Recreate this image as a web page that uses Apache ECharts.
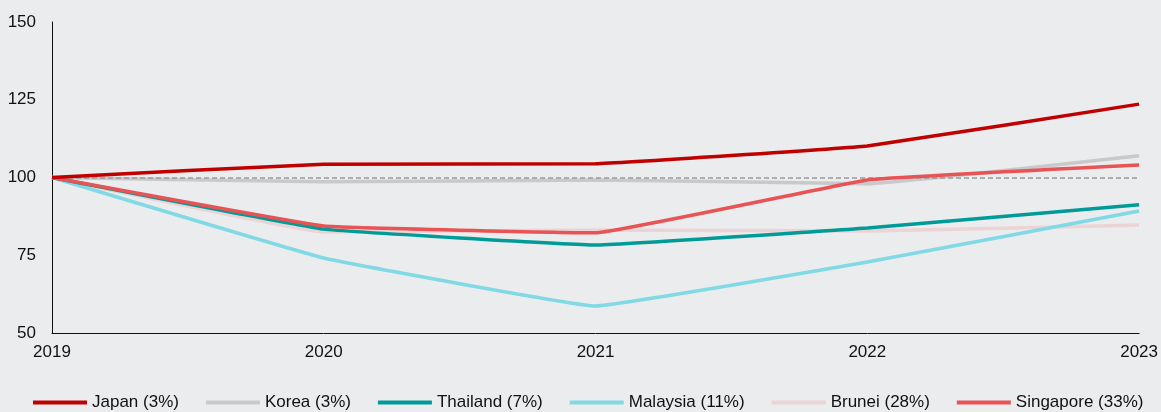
<!DOCTYPE html>
<html>
<head>
<meta charset="utf-8">
<script src="https://cdn.jsdelivr.net/npm/echarts@6/dist/echarts.min.js"></script>
<style>
  html, body { margin: 0; padding: 0; background: #EBECEE; }
  #main { width: 1161px; height: 412px; }
</style>
</head>
<body>
<div id="main"></div>
<script>
// data
const years = ['2019', '2020', '2021', '2022', '2023'];
const yTicks = [50, 75, 100, 125, 150];

const japan     = [100, 104.3, 104.4, 110.1, 123.6];
const korea     = [100, 98.6, 99.2, 98.0, 107.0];
const thailand  = [100, 83.4, 78.3, 83.8, 91.2];
const malaysia  = [100, 74.1, 58.7, 72.8, 89.2];
const brunei    = [100, 82.5, 83.1, 82.8, 84.7];
const singapore = [100, 84.4, 82.2, 99.2, 104.0];

const seriesNames = ['Japan (3%)', 'Korea (3%)', 'Thailand (7%)', 'Malaysia (11%)', 'Brunei (28%)', 'Singapore (33%)'];
const seriesData = [japan, korea, thailand, malaysia, brunei, singapore];
const colors = ['#C00000', '#C9C9CB', '#009B98', '#80D9E4', '#ECD3D5', '#E85355'];
// drawing order: light lines first, strong ones on top
const zOrder = [6, 2, 4, 3, 1, 5];

const chartDom = document.getElementById('main');
const myChart = echarts.init(chartDom);
const font = 'Liberation Sans, Arial, sans-serif';

const series = seriesNames.map((name, i) => ({
  name: name,
  type: 'line',
  data: seriesData[i],
  symbol: 'none',
  smooth: 0.07,
  z: zOrder[i],
  lineStyle: { color: colors[i], width: 3.5 },
  itemStyle: { color: colors[i] }
}));

// dashed reference line at 100
series[1].markLine = {
  silent: true,
  symbol: 'none',
  label: { show: false },
  lineStyle: { color: '#9A9A9A', type: [5, 3], width: 1.5 },
  data: [{ yAxis: 100 }]
};

const option = {
  backgroundColor: '#EBECEE',
  animation: false,
  textStyle: { fontFamily: font },
  grid: { left: 52, right: 21, top: 22, bottom: 79, containLabel: false },
  legend: {
    bottom: 1,
    left: 33,
    padding: 0,
    icon: 'rect',
    itemWidth: 54,
    itemHeight: 4,
    itemGap: 27,
    textStyle: { fontSize: 17, color: '#111', fontFamily: font },
    data: seriesNames
  },
  xAxis: {
    type: 'category',
    data: years,
    boundaryGap: false,
    axisLine: { lineStyle: { color: '#111', width: 1 } },
    axisTick: { show: false },
    axisLabel: { fontSize: 17, color: '#111', margin: 11, fontFamily: font },
    splitLine: { show: false }
  },
  yAxis: {
    type: 'value',
    min: yTicks[0],
    max: yTicks[yTicks.length - 1],
    interval: 25,
    axisLine: { show: true, lineStyle: { color: '#111', width: 1 } },
    axisTick: { show: false },
    axisLabel: { fontSize: 17, color: '#111', margin: 16, fontFamily: font },
    splitLine: { show: false }
  },
  series: series
};

option && myChart.setOption(option);
</script>
</body>
</html>
